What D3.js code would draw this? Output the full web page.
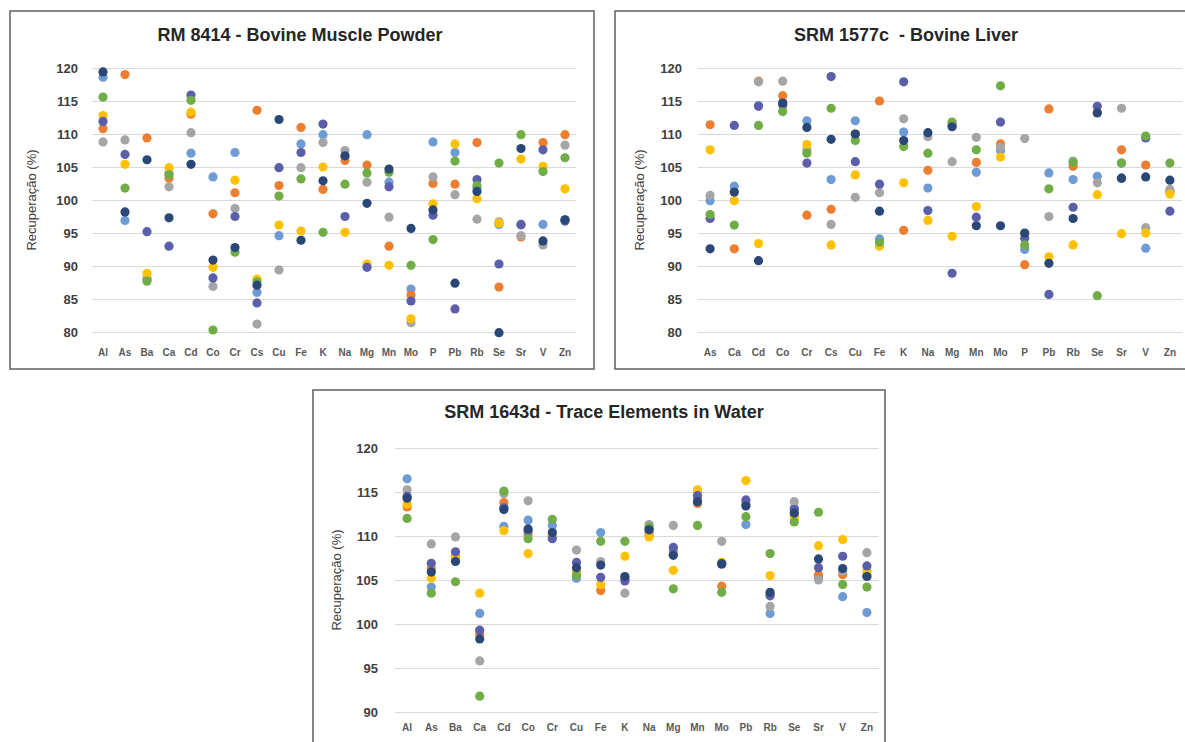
<!DOCTYPE html>
<html>
<head>
<meta charset="utf-8">
<script src="https://cdn.jsdelivr.net/npm/d3@7"></script>
<style>
  body { margin: 0; background: #fff; }
  svg { display: block; font-family: "Liberation Sans", Arial, sans-serif; }
  .chart__frame { fill: none; stroke: #5f5f5f; stroke-width: 1.5; }
  .chart__title { font-size: 18px; font-weight: bold; fill: #262626; white-space: pre; }
  .chart__ytitle { font-size: 13px; fill: #404040; }
  .chart__axis--y text { font-size: 13px; font-weight: bold; fill: #404040; }
  .chart__axis--x text { font-size: 10px; font-weight: bold; fill: #595959; }
  .chart__axis line { stroke: #d9d9d9; stroke-width: 1; }
  .chart__axis .domain { display: none; }
</style>
</head>
<body>
<svg id="chart" width="1185" height="742"></svg>
<script>
// series order: light blue, orange, gray, yellow, purple, green, navy
var seriesNames = ["S1", "S2", "S3", "S4", "S5", "S6", "S7"]
var seriesColors = ["#6f9bd5", "#ed7d31", "#a5a5a5", "#ffc000", "#5b5ea8", "#70ad47", "#2a4778"]

// RM 8414 - Bovine Muscle Powder
var muscleElements = ["Al", "As", "Ba", "Ca", "Cd", "Co", "Cr", "Cs", "Cu", "Fe", "K", "Na", "Mg", "Mn", "Mo", "P", "Pb", "Rb", "Se", "Sr", "V", "Zn"]
var muscleTicks = [80, 85, 90, 95, 100, 105, 110, 115, 120]
var muscleS1 = [118.6, 96.9, 88.0, 104.0, 107.1, 103.5, 107.2, 86.0, 94.6, 108.5, 109.9, 106.5, 109.9, 102.7, 86.5, 108.8, 107.2, 101.8, 96.3, 96.2, 96.3, 97.0]
var muscleS2 = [110.8, 119.0, 109.4, 103.3, 113.0, 97.9, 101.1, 113.6, 102.2, 111.0, 101.6, 106.0, 105.3, 93.0, 85.6, 102.5, 102.4, 108.7, 86.8, 94.4, 108.7, 109.9]
var muscleS3 = [108.8, 109.1, 88.2, 102.0, 110.2, 86.9, 98.7, 81.2, 89.4, 104.9, 108.7, 107.5, 102.7, 97.4, 81.4, 103.5, 100.8, 97.1, 96.7, 94.6, 93.2, 108.3]
var muscleS4 = [112.8, 105.4, 88.9, 104.9, 113.3, 89.8, 103.0, 88.0, 96.2, 95.3, 105.0, 95.1, 90.3, 90.1, 82.0, 99.4, 108.5, 100.2, 96.5, 106.2, 105.1, 101.7]
var muscleS5 = [111.9, 106.9, 95.2, 93.0, 115.9, 88.2, 97.5, 84.4, 104.9, 107.2, 111.5, 97.5, 89.8, 102.0, 84.7, 97.7, 83.5, 103.1, 90.3, 96.3, 107.6, 96.8]
var muscleS6 = [115.6, 101.8, 87.7, 103.8, 115.1, 80.3, 92.1, 87.6, 100.6, 103.2, 95.1, 102.4, 104.1, 104.2, 90.1, 94.0, 105.9, 102.2, 105.6, 109.9, 104.3, 106.4]
var muscleS7 = [119.4, 98.2, 106.1, 97.3, 105.4, 90.9, 92.8, 87.1, 112.2, 93.9, 102.9, 106.7, 99.5, 104.7, 95.7, 98.5, 87.4, 101.3, 79.9, 107.8, 93.8, 97.0]

// SRM 1577c - Bovine Liver
var liverElements = ["As", "Ca", "Cd", "Co", "Cr", "Cs", "Cu", "Fe", "K", "Na", "Mg", "Mn", "Mo", "P", "Pb", "Rb", "Se", "Sr", "V", "Zn"]
var liverTicks = [80, 85, 90, 95, 100, 105, 110, 115, 120]
var liverS1 = [99.9, 102.1, 114.3, 114.8, 112.0, 103.1, 112.0, 94.1, 110.3, 101.8, 111.3, 104.2, 107.5, 92.5, 104.1, 103.1, 103.6, 105.6, 92.7, 101.3]
var liverS2 = [111.4, 92.6, 118.0, 115.8, 97.7, 98.6, 110.0, 115.0, 95.4, 104.5, 111.5, 105.7, 108.5, 90.2, 113.8, 105.1, 113.3, 107.6, 105.3, 101.2]
var liverS3 = [100.7, 101.2, 117.9, 118.0, 107.6, 96.3, 100.4, 101.1, 112.3, 109.6, 105.8, 109.5, 108.0, 109.3, 97.5, 105.9, 102.6, 113.9, 95.8, 101.6]
var liverS4 = [107.6, 99.9, 93.4, 114.5, 108.4, 93.2, 103.8, 93.0, 102.6, 96.9, 94.5, 99.0, 106.5, 94.8, 91.4, 93.2, 100.8, 94.9, 95.0, 100.9]
var liverS5 = [97.2, 111.3, 114.2, 114.4, 105.6, 118.7, 105.8, 102.4, 117.9, 98.4, 88.9, 97.4, 111.8, 94.2, 85.7, 98.9, 114.2, 103.3, 109.4, 98.3]
var liverS6 = [97.8, 96.2, 111.3, 113.4, 107.1, 113.9, 109.0, 93.6, 108.1, 107.1, 111.8, 107.6, 117.3, 93.2, 101.7, 105.7, 85.5, 105.6, 109.7, 105.6]
var liverS7 = [92.6, 101.2, 90.8, 114.7, 111.0, 109.2, 110.0, 98.3, 109.0, 110.2, 111.1, 96.1, 96.1, 95.0, 90.4, 97.2, 113.2, 103.3, 103.5, 103.0]

// SRM 1643d - Trace Elements in Water
var waterElements = ["Al", "As", "Ba", "Ca", "Cd", "Co", "Cr", "Cu", "Fe", "K", "Na", "Mg", "Mn", "Mo", "Pb", "Rb", "Se", "Sr", "V", "Zn"]
var waterTicks = [90, 95, 100, 105, 110, 115, 120]
var waterS1 = [116.5, 104.2, 107.3, 101.2, 111.1, 111.8, 111.2, 105.2, 110.4, 105.2, 110.5, 108.3, 114.4, 106.9, 111.3, 101.2, 113.2, 105.2, 103.1, 101.3]
var waterS2 = [113.3, 106.3, 107.7, 98.8, 113.8, 110.2, 110.0, 105.9, 103.8, 105.1, 110.1, 107.9, 113.7, 104.3, 113.6, 103.3, 112.4, 105.6, 105.6, 105.5]
var waterS3 = [115.25, 109.1, 109.9, 95.8, 114.8, 114.0, 110.1, 108.4, 107.1, 103.5, 111.3, 111.2, 114.2, 109.4, 113.7, 102.0, 113.9, 105.0, 106.0, 108.1]
var waterS4 = [113.6, 105.2, 107.5, 103.5, 110.6, 108.0, 110.0, 105.8, 104.5, 107.7, 109.9, 106.1, 115.25, 107.0, 116.3, 105.5, 112.0, 108.9, 109.6, 106.0]
var waterS5 = [114.5, 106.9, 108.2, 99.3, 113.2, 110.6, 109.7, 107.0, 105.3, 104.9, 110.9, 108.7, 114.6, 106.9, 114.1, 103.2, 113.0, 106.4, 107.7, 106.6]
var waterS6 = [112.0, 103.5, 104.8, 91.8, 115.1, 109.7, 111.9, 105.5, 109.4, 109.4, 111.0, 104.0, 111.2, 103.6, 112.2, 108.0, 111.6, 112.7, 104.5, 104.2]
var waterS7 = [114.3, 105.9, 107.1, 98.3, 113.0, 110.8, 110.4, 106.4, 106.7, 105.4, 110.7, 107.8, 113.9, 106.8, 113.4, 103.6, 112.6, 107.4, 106.3, 105.4]

var svg = d3.select("#chart")

function drawPanel(opts) {
  var g = svg.append("g")
  var f = opts.frame
  var p = opts.plot

  g.append("rect")
    .attr("class", "chart__frame")
    .attr("x", f[0]).attr("y", f[1])
    .attr("width", f[2] - f[0]).attr("height", f[3] - f[1])

  var x = d3.scaleBand().domain(opts.cats).range([p.left, p.right])
  var y = d3.scaleLinear().domain(opts.domain).range([p.bottom, p.top])

  // gridlines + y labels
  g.append("g")
    .attr("class", "chart__axis chart__axis--y")
    .attr("transform", "translate(" + p.left + ",0)")
    .call(d3.axisLeft(y).tickValues(opts.ticks).tickSize(-(p.right - p.left)).tickPadding(p.labelGap).tickFormat(d3.format("d")))

  // x labels
  var xAxis = g.append("g")
    .attr("class", "chart__axis chart__axis--x")
    .attr("transform", "translate(0," + p.xLabelY + ")")
    .call(d3.axisBottom(x).tickSize(0).tickPadding(0))
  xAxis.selectAll("text").attr("dy", "0.35em")

  g.append("text")
    .attr("class", "chart__title")
    .attr("x", opts.titleX).attr("y", opts.titleY)
    .attr("text-anchor", "middle")
    .attr("dy", "0.35em")
    .text(opts.title)

  g.append("text")
    .attr("class", "chart__ytitle")
    .attr("transform", "translate(" + opts.yTitleX + "," + (p.top + p.bottom) / 2 + ") rotate(-90)")
    .attr("text-anchor", "middle")
    .attr("dy", "0.35em")
    .text("Recuperação (%)")

  opts.series.forEach(function (vals, si) {
    g.append("g")
      .selectAll("circle")
      .data(vals)
      .enter()
      .append("circle")
      .attr("cx", function (d, i) { return x(opts.cats[i]) + x.bandwidth() / 2 })
      .attr("cy", function (d) { return y(d) })
      .attr("r", 4.6)
      .attr("fill", seriesColors[si])
  })
}

drawPanel({
  frame: [10, 11, 594, 369],
  plot: { left: 92, right: 576, top: 68, bottom: 332, xLabelY: 352, labelGap: 14 },
  domain: [80, 120],
  ticks: muscleTicks,
  cats: muscleElements,
  title: "RM 8414 - Bovine Muscle Powder",
  titleX: 300, titleY: 35,
  yTitleX: 31,
  series: [muscleS1, muscleS2, muscleS3, muscleS4, muscleS5, muscleS6, muscleS7]
})

drawPanel({
  frame: [615, 11, 1192, 369],
  plot: { left: 698, right: 1182, top: 68, bottom: 332, xLabelY: 352, labelGap: 16 },
  domain: [80, 120],
  ticks: liverTicks,
  cats: liverElements,
  title: "SRM 1577c  - Bovine Liver",
  titleX: 906, titleY: 35,
  yTitleX: 639,
  series: [liverS1, liverS2, liverS3, liverS4, liverS5, liverS6, liverS7]
})

drawPanel({
  frame: [313, 390, 885, 752],
  plot: { left: 395, right: 879, top: 448, bottom: 712, xLabelY: 727, labelGap: 17 },
  domain: [90, 120],
  ticks: waterTicks,
  cats: waterElements,
  title: "SRM 1643d - Trace Elements in Water",
  titleX: 604, titleY: 412,
  yTitleX: 336,
  series: [waterS1, waterS2, waterS3, waterS4, waterS5, waterS6, waterS7]
})
</script>
</body>
</html>
